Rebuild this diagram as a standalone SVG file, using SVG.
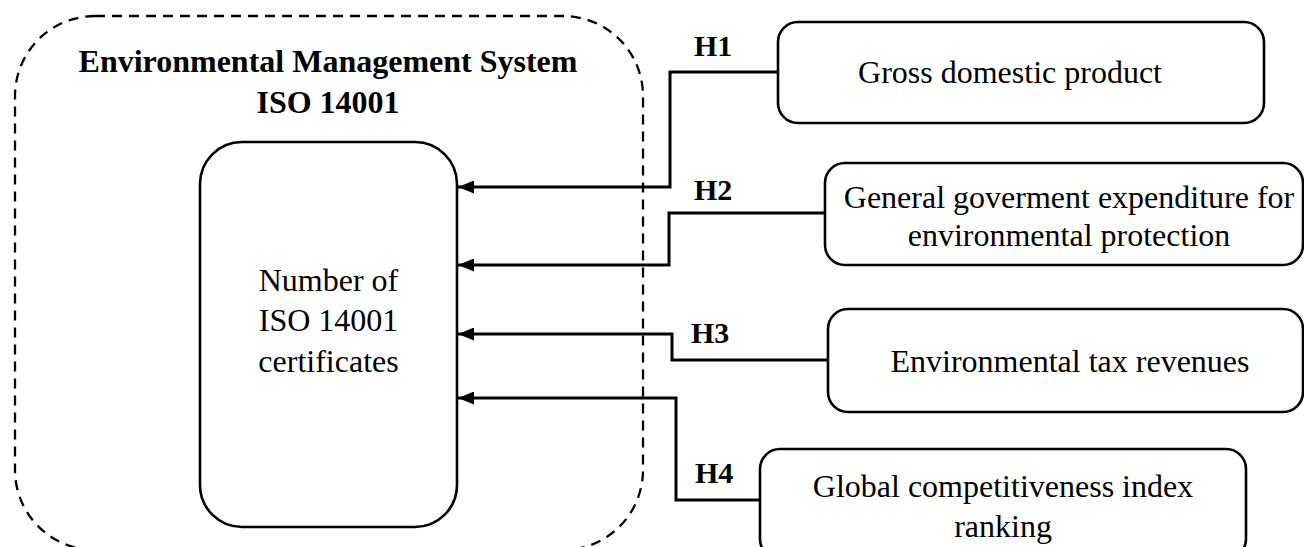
<svg xmlns="http://www.w3.org/2000/svg" width="1304" height="547" viewBox="0 0 1304 547">
  <style>
    .box { fill: #ffffff; stroke: #000000; stroke-width: 2.6; }
    .dash { fill: none; stroke: #000000; stroke-width: 2.3; stroke-dasharray: 10 7; }
    .conn { fill: none; stroke: #000000; stroke-width: 3; }
    .t { font-family: "Liberation Serif", "Times New Roman", serif; font-size: 32px; fill: #000000; text-anchor: middle; }
    .b { font-family: "Liberation Serif", "Times New Roman", serif; font-size: 30px; font-weight: bold; fill: #000000; }
    .tb { font-family: "Liberation Serif", "Times New Roman", serif; font-size: 32px; font-weight: bold; fill: #000000; text-anchor: middle; }
  </style>
  <defs>
    <marker id="arrow" markerUnits="userSpaceOnUse" markerWidth="16" markerHeight="13" refX="16" refY="6.5" orient="auto">
      <path d="M0,0 L16,6.5 L0,13 z" fill="#000000"/>
    </marker>
  </defs>
  <rect width="1304" height="547" fill="#ffffff"/>

  <g id="ems">
    <rect class="dash" x="15" y="16" width="628" height="534" rx="80" ry="80"/>
    <text class="tb" x="328" y="72">Environmental Management System</text>
    <text class="tb" x="328" y="113">ISO 14001</text>
  </g>

  <g id="certificates">
    <rect class="box" x="200" y="142" width="257" height="385" rx="42" ry="42"/>
    <text class="t" x="328.5" y="291">Number of</text>
    <text class="t" x="328.5" y="331">ISO 14001</text>
    <text class="t" x="328.5" y="372">certificates</text>
  </g>

  <g id="gdp">
    <rect class="box" x="778" y="22" width="486" height="101" rx="20" ry="20"/>
    <text class="t" x="1010" y="83">Gross domestic product</text>
  </g>

  <g id="expenditure">
    <rect class="box" x="825" y="163" width="478" height="102" rx="20" ry="20"/>
    <text class="t" x="1069" y="208">General goverment expenditure for</text>
    <text class="t" x="1069" y="246">environmental protection</text>
  </g>

  <g id="tax">
    <rect class="box" x="828" y="309" width="475" height="103" rx="20" ry="20"/>
    <text class="t" x="1070" y="372">Environmental tax revenues</text>
  </g>

  <g id="gci">
    <rect class="box" x="760" y="449" width="486" height="110" rx="20" ry="20"/>
    <text class="t" x="1003" y="497">Global competitiveness index</text>
    <text class="t" x="1003" y="537">ranking</text>
  </g>

  <g id="connectors">
    <path class="conn" d="M778,72 H670 V187 H458" marker-end="url(#arrow)"/>
    <path class="conn" d="M825,213 H669 V265 H458" marker-end="url(#arrow)"/>
    <path class="conn" d="M828,360 H672 V334 H458" marker-end="url(#arrow)"/>
    <path class="conn" d="M760,500 H676 V398 H458" marker-end="url(#arrow)"/>
    <text class="b" x="694" y="56">H1</text>
    <text class="b" x="694" y="200">H2</text>
    <text class="b" x="691" y="343">H3</text>
    <text class="b" x="695" y="483">H4</text>
  </g>
</svg>
